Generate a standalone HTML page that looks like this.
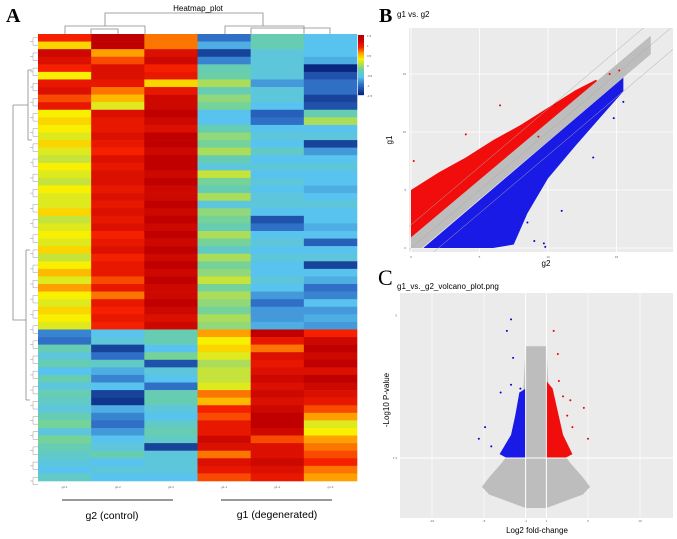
<!DOCTYPE html>
<html><head><meta charset="utf-8">
<style>
html,body{margin:0;padding:0;background:#fff;}
svg{display:block;font-family:"Liberation Sans",sans-serif;}
</style></head>
<body>
<svg id="fig" width="677" height="539" viewBox="0 0 677 539" xmlns="http://www.w3.org/2000/svg">
<text x="6" y="22" font-family="Liberation Serif" font-weight="bold" font-size="20">A</text>
<text x="379" y="22" font-family="Liberation Serif" font-weight="bold" font-size="20">B</text>
<text x="378" y="285" font-family="Liberation Serif" font-size="22">C</text>
<text x="198" y="11" font-size="8" text-anchor="middle">Heatmap_plot</text>
<g id="heat"></g>
<g id="dendro" stroke="#888" stroke-width="0.8" fill="none">
<path d="M65 34V26H145V34M91 34V29H118V34 M105 26V13H263V26 M225 34V26H304V34 M251 34V28H330V34" />
<path d="M13 105V320H26M13 105H28M28 70V140M28 70H32M28 140H32M26 250V400M26 250H30M26 400H30"/>
</g>
<g id="leftleaves" stroke="#999" stroke-width="0.5" fill="none"></g>
<g id="cbar"></g>
<g>
<line x1="62" y1="500" x2="173" y2="500" stroke="#333" stroke-width="1"/>
<line x1="221" y1="500" x2="332" y2="500" stroke="#333" stroke-width="1"/>
<text x="112" y="519" font-size="10.5" text-anchor="middle">g2 (control)</text>
<text x="277" y="518" font-size="10.5" text-anchor="middle">g1 (degenerated)</text>
</g>
<g id="pb"></g>
<g id="pc"></g>
</svg>
<script>
const NS="http://www.w3.org/2000/svg";
function mk(tag,attrs,parent){const e=document.createElementNS(NS,tag);for(const k in attrs)e.setAttribute(k,attrs[k]);parent.appendChild(e);return e;}

// ---------- Heatmap data ----------
const heatSamples=["g2-1","g2-2","g2-3","g1-1","g1-2","g1-3"];
const heatRows=[
[0.9,1.3,0.7,-1.0,-0.3,-0.6],[0.4,1.3,0.7,-0.7,-0.3,-0.6],[1.2,0.6,1.1,-1.3,-0.5,-0.6],[1.1,0.8,1.2,-0.9,-0.5,-0.7],
[0.9,1.1,0.9,-0.3,-0.5,-1.5],[0.3,1.1,1.0,-0.25,-0.5,-1.2],[1.0,1.0,0.4,0.0,-0.8,-1.0],[1.1,0.7,1.0,-0.3,-0.5,-1.0],
[0.8,0.5,1.2,-0.1,-0.5,-1.3],[1.0,0.2,1.2,-0.2,-0.6,-1.2],[0.3,1.1,1.3,-0.6,-1.1,-0.3],[0.4,1.0,1.2,-0.6,-1.0,0.0],
[0.3,1.0,1.1,-0.3,-0.6,-0.6],[0.2,1.1,1.3,-0.1,-0.5,-0.5],[0.4,1.0,1.3,-0.2,-0.6,-1.3],[0.2,0.9,1.2,0.0,-0.4,-0.8],
[0.1,1.1,1.3,-0.3,-0.6,-0.6],[0.3,1.0,1.3,-0.5,-0.5,-0.5],[0.2,1.1,1.2,0.1,-0.6,-0.6],[0.1,1.1,1.3,-0.2,-0.5,-0.6],
[0.3,1.0,1.2,-0.3,-0.6,-0.7],[0.2,1.1,1.2,0.0,-0.5,-0.6],[0.2,1.0,1.3,-0.5,-0.5,-0.5],[0.4,1.1,1.2,-0.1,-0.6,-0.6],
[0.1,1.0,1.3,-0.2,-1.2,-0.6],[0.2,1.1,1.2,-0.3,-1.0,-0.7],[0.3,0.9,1.3,0.0,-0.6,-0.6],[0.2,1.0,1.2,-0.2,-0.5,-1.1],
[0.4,1.1,1.3,-0.4,-0.6,-0.6],[0.1,0.9,1.2,0.0,-0.5,-0.5],[0.3,1.0,1.3,-0.2,-0.6,-1.3],[0.5,1.0,1.2,-0.1,-0.6,-0.6],
[0.2,0.8,1.3,0.1,-0.5,-0.7],[0.6,1.0,1.2,-0.2,-0.6,-1.0],[0.3,0.7,1.2,0.0,-0.8,-0.9],[0.2,1.0,1.3,-0.1,-1.0,-0.6],
[0.4,0.9,1.2,-0.2,-0.8,-0.8],[0.3,1.0,1.1,0.0,-0.8,-0.7],[0.2,0.9,1.2,-0.1,-0.7,-0.8],
[-0.9,-0.6,-0.3,0.6,1.3,0.9],[-1.0,-0.5,-0.3,0.3,1.0,1.2],[-0.3,-1.3,-0.6,0.4,0.7,1.3],[-0.5,-1.0,-0.2,0.2,1.1,1.2],
[-0.3,-0.4,-1.2,0.0,1.0,1.3],[-0.6,-0.7,-0.5,0.1,1.1,1.1],[-0.3,-0.9,-0.6,0.1,1.2,1.3],[-0.5,-0.6,-1.0,0.2,1.1,1.2],
[-0.3,-1.3,-0.3,0.7,1.2,1.1],[-0.4,-1.4,-0.3,0.5,1.1,1.0],[-0.5,-0.7,-0.5,0.9,1.2,0.8],[-0.3,-0.9,-0.6,0.8,1.3,0.6],
[-0.2,-1.0,-0.4,1.0,1.3,0.2],[-0.5,-0.8,-0.3,1.0,1.2,0.3],[-0.2,-0.6,-0.4,1.2,0.8,0.6],[-0.3,-0.5,-1.3,1.1,1.1,0.7],
[-0.4,-0.3,-0.5,0.7,1.1,0.8],[-0.5,-0.6,-0.5,1.1,1.2,0.9],[-0.6,-0.5,-0.5,1.0,1.1,0.7],[-0.4,-0.6,-0.6,0.8,1.0,0.6]
];
const cbarTicks=["1.5","1","0.5","0","-0.5","-1","-1.5"];
const stops=[[-1.5,[8,38,127]],[-1.0,[47,111,198]],[-0.6,[88,195,238]],[-0.25,[104,207,168]],[0.05,[184,224,74]],[0.3,[248,240,0]],[0.6,[255,160,0]],[0.9,[245,32,0]],[1.3,[192,0,0]],[1.5,[180,0,0]]];
function col(v){v=Math.max(-1.5,Math.min(1.5,v));for(let i=0;i<stops.length-1;i++){const a=stops[i],b=stops[i+1];if(v<=b[0]){const t=(v-a[0])/(b[0]-a[0]);const c=a[1].map((x,j)=>Math.round(x+(b[1][j]-x)*t));return `rgb(${c})`;}}return "rgb(180,0,0)";}
const HX0=38,HX1=357,HY0=34,HY1=481;
const heat=document.getElementById('heat');
const cw=(HX1-HX0)/heatSamples.length, rh=(HY1-HY0)/heatRows.length;
heatRows.forEach((row,r)=>{row.forEach((v,c)=>{
 const e=mk('rect',{x:HX0+c*cw,y:HY0+r*rh,width:cw+0.3,height:rh+0.3,fill:col(v)},heat);
 
 
});});
heatSamples.forEach((s,c)=>{
 const t=mk('text',{x:HX0+(c+0.5)*cw,y:488,'font-size':3,'text-anchor':'middle',fill:'#666'},heat);t.textContent=s;
 
 
});
const ll=document.getElementById('leftleaves');
for(let r=0;r<heatRows.length;r+=2){const y=HY0+(r+1)*rh;mk('path',{d:`M38 ${y-rh/2}H33V${y+rh/2}H38M33 ${y}H30`},ll);}
const cb=document.getElementById('cbar');
for(let i=0;i<60;i++){const v=1.5-3*i/59;mk('rect',{x:358,y:35+i,width:6,height:1.2,fill:col(v)},cb);}
cbarTicks.forEach((t,i)=>{const e=mk('text',{x:367,y:37+i*10,'font-size':3,fill:'#555'},cb);e.textContent=t;
 
 });

// ---------- Panel B scatter ----------
const bTicks=[0,5,10,15];
const grayUpper=[[0,0.9],[17.5,18.3]], grayLowerOff=0.8;
const redEdgeX=[0,2,4,6,8,10,12,13.5];
const redEdgeY=[5,6.5,7.8,9.3,10.6,12.1,13.6,14.5];
const blueEdgeX=[0.9,4,6,7.5,8.5,10,12,14,15.5];
const blueEdgeY=[0,0,0,0.3,3.0,6.0,8.8,11.5,13.5];
const redOutX=[0.2,4,6.5,10.5,9.3,14.5,15.2];
const redOutY=[7.5,9.8,12.3,12.3,9.6,15,15.3];
const blueOutX=[9,8.5,9.7,9.8,11,13.3,14.8,15.5];
const blueOutY=[0.6,2.2,0.4,0.1,3.2,7.8,11.2,12.6];
const pb=document.getElementById('pb');
const BX0=409,BX1=673,BY0=28,BY1=252;
const bx=v=>411+v*13.7, by=v=>248-v*11.6;
mk('rect',{x:BX0,y:BY0,width:BX1-BX0,height:BY1-BY0,fill:'#ebebeb'},pb);
bTicks.forEach(t=>{mk('line',{x1:bx(t),x2:bx(t),y1:BY0,y2:BY1,stroke:'#fff','stroke-width':0.8},pb);mk('line',{x1:BX0,x2:BX1,y1:by(t),y2:by(t),stroke:'#fff','stroke-width':0.8},pb);
 const a=mk('text',{x:bx(t),y:258,'font-size':3,'text-anchor':'middle',fill:'#666'},pb);a.textContent=t;
 
 const b=mk('text',{x:BX0-3,y:by(t)+1,'font-size':3,'text-anchor':'end',fill:'#666'},pb);b.textContent=t;
 });
const clipB=mk('clipPath',{id:'cB'},pb);mk('rect',{x:BX0,y:BY0,width:BX1-BX0,height:BY1-BY0},clipB);
const gB=mk('g',{'clip-path':'url(#cB)'},pb);
let d=`M${bx(0)} ${by(0.9)}`;redEdgeX.forEach((x,i)=>d+=`L${bx(x)} ${by(redEdgeY[i])}`);d+=`L${bx(13.6)} ${by(14.4)}Z`;
let e=mk('path',{d,fill:'#f20d0d'},gB);
d=`M${bx(blueEdgeX[0])} ${by(0)}`;blueEdgeX.forEach((x,i)=>d+=`L${bx(x)} ${by(blueEdgeY[i])}`);d+=`L${bx(15.5)} ${by(14.7)}Z`;
e=mk('path',{d,fill:'#1a1ae6'},gB);
d=`M${bx(0)} ${by(0)}L${bx(0)} ${by(grayUpper[0][1])}L${bx(grayUpper[1][0])} ${by(grayUpper[1][1])}L${bx(17.5)} ${by(17.5-grayLowerOff)}L${bx(grayLowerOff)} ${by(0)}Z`;
e=mk('path',{d,fill:'#bdbdbd'},gB);
[-2,0,2].forEach(o=>mk('line',{x1:bx(-2),y1:by(-2+o),x2:bx(22),y2:by(22+o),stroke:'#aaa','stroke-width':0.5},gB));
redOutX.forEach((x,i)=>{const c=mk('circle',{cx:bx(x),cy:by(redOutY[i]),r:1,fill:'#e00'},gB);});
blueOutX.forEach((x,i)=>{const c=mk('circle',{cx:bx(x),cy:by(blueOutY[i]),r:1,fill:'#00c'},gB);});
let t=mk('text',{x:397,y:17,'font-size':8},pb);t.textContent='g1 vs. g2';
t=mk('text',{x:546,y:266,'font-size':8,'text-anchor':'middle'},pb);t.textContent='g2';
t=mk('text',{x:392,y:140,'font-size':8,'text-anchor':'middle',transform:'rotate(-90 392 140)'},pb);t.textContent='g1';

// ---------- Panel C volcano ----------
const cXTicks=[-10,-5,-1,1,5,10];
const cYTicks=[1.3,5];
const grayCloudX=[-1,-2.5,-4.5,-5.2,-4.5,-3.2,-2.2,-1.3,-1,1,1.3,2.2,3.2,4.5,5.2,4.5,2.5,1];
const grayCloudY=[0,0.15,0.35,0.55,0.8,1.2,1.6,2.6,4.2,4.2,2.6,1.6,1.2,0.8,0.55,0.35,0.15,0];
const blueBlobX=[-1,-1,-1.6,-2,-2.4,-3.5,-2.8,-1];
const blueBlobY=[1.3,3.1,3.0,2.4,1.9,1.4,1.3,1.3];
const redBlobX=[1,1,1.6,2.1,2.6,3.5,2.8,1];
const redBlobY=[1.3,3.3,3.1,2.5,1.9,1.4,1.3,1.3];
const cBlueOutX=[-2.4,-2.8,-2.2,-2.4,-3.4,-1.5,-4.9,-5.5,-4.3];
const cBlueOutY=[4.9,4.6,3.9,3.2,3.0,3.1,2.1,1.8,1.6];
const cRedOutX=[1.7,2.1,2.2,2.6,3.3,4.6,3.5,5.0,3.0];
const cRedOutY=[4.6,4.0,3.3,2.9,2.8,2.6,2.1,1.8,2.4];
const pc=document.getElementById('pc');
const CX0=400,CX1=673,CY0=293,CY1=518;
const cx=v=>536+v*10.4, cy=v=>508-v*38.5;
mk('rect',{x:CX0,y:CY0,width:CX1-CX0,height:CY1-CY0,fill:'#ebebeb'},pc);
[-10,-5,5,10].forEach(v=>mk('line',{x1:cx(v),x2:cx(v),y1:CY0,y2:CY1,stroke:'#fff','stroke-width':0.6},pc));
cXTicks.forEach(v=>{const a=mk('text',{x:cx(v),y:522,'font-size':3,'text-anchor':'middle',fill:'#666'},pc);a.textContent=v;
 });
cYTicks.forEach(v=>{const a=mk('text',{x:CX0-3,y:cy(v)+1,'font-size':3,'text-anchor':'end',fill:'#666'},pc);a.textContent=v;
 });
d='M'+grayCloudX.map((x,i)=>`${cx(x)} ${cy(grayCloudY[i])}`).join('L')+'Z';
e=mk('path',{d,fill:'#bdbdbd'},pc);
d='M'+blueBlobX.map((x,i)=>`${cx(x)} ${cy(blueBlobY[i])}`).join('L')+'Z';
e=mk('path',{d,fill:'#1a1ae6'},pc);
d='M'+redBlobX.map((x,i)=>`${cx(x)} ${cy(redBlobY[i])}`).join('L')+'Z';
e=mk('path',{d,fill:'#f20d0d'},pc);
[-1,1].forEach(v=>mk('line',{x1:cx(v),x2:cx(v),y1:CY0,y2:CY1,stroke:'#fff','stroke-width':1},pc));
mk('line',{x1:CX0,x2:CX1,y1:cy(1.3),y2:cy(1.3),stroke:'#fff','stroke-width':1},pc);
cBlueOutX.forEach((x,i)=>{const c=mk('circle',{cx:cx(x),cy:cy(cBlueOutY[i]),r:1,fill:'#00c'},pc);});
cRedOutX.forEach((x,i)=>{const c=mk('circle',{cx:cx(x),cy:cy(cRedOutY[i]),r:1,fill:'#e00'},pc);});
t=mk('text',{x:397,y:289,'font-size':8},pc);t.textContent='g1_vs._g2_volcano_plot.png';
t=mk('text',{x:537,y:533,'font-size':8,'text-anchor':'middle'},pc);t.textContent='Log2 fold-change';
t=mk('text',{x:389,y:400,'font-size':8,'text-anchor':'middle',transform:'rotate(-90 389 400)'},pc);t.textContent='-Log10 P-value';
</script>
</body></html>
